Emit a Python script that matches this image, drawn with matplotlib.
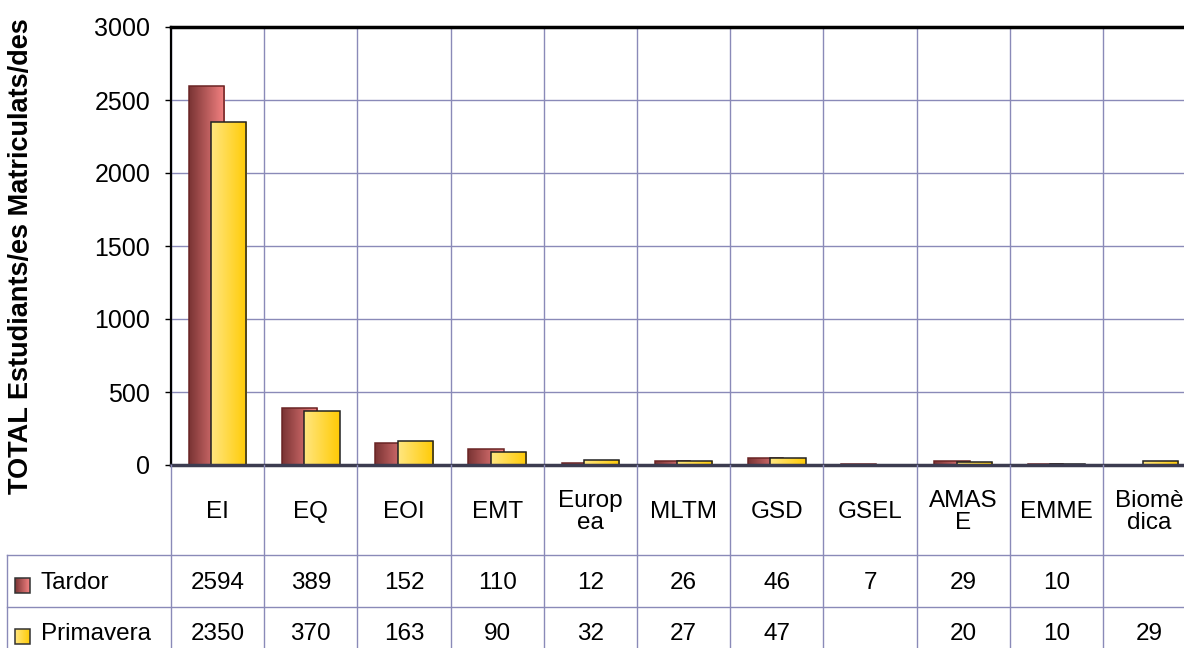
import numpy as np
import matplotlib.pyplot as plt
from matplotlib.patches import Rectangle
from matplotlib.colors import LinearSegmentedColormap

categories = ["EI", "EQ", "EOI", "EMT", "Europ\nea", "MLTM", "GSD", "GSEL", "AMAS\nE", "EMME", "Biomè\ndica"]
tardor = [2594, 389, 152, 110, 12, 26, 46, 7, 29, 10, None]
primavera = [2350, 370, 163, 90, 32, 27, 47, None, 20, 10, 29]
series_names = ["Tardor", "Primavera"]
yticks = [0, 500, 1000, 1500, 2000, 2500, 3000]

W, H = 1184, 648
grid_c = "#8a8ab8"
grad_t = ["#7a3434", "#f58282"]
grad_p = ["#ffe680", "#ffcb05"]

plt.rcParams["font.family"] = ["Liberation Sans", "DejaVu Sans"]
fig = plt.figure(figsize=(W / 100, H / 100), dpi=100)

x0, y_top, y_zero = 171, 27, 465
col_w = 93.2
n = len(categories)
ax = fig.add_axes([x0 / W, (H - y_zero) / H, n * col_w / W, (y_zero - y_top) / H])
ax.set_yticks(yticks)
ax.set_xticks([])
ax.tick_params(axis="y", direction="out", length=4.5, width=1, labelsize=18, pad=10.5)
fig.text(21 / W, (H - 256) / H, "TOTAL Estudiants/es Matriculats/des",
         rotation=90, ha="center", va="center", fontsize=19.5, fontweight="bold")
for k in np.arange(-0.5, n, 1.0):
    ax.axvline(k, color=grid_c, lw=1, zorder=0)
for v in yticks[1:]:
    ax.axhline(v, color=grid_c, lw=1, zorder=0)
ax.spines["right"].set_visible(False)
ax.spines["left"].set_linewidth(1.6)
ax.spines["top"].set_linewidth(2.5)
ax.spines["bottom"].set_linewidth(2.5)
ax.spines["bottom"].set_color("#3c3c50")

grad = np.linspace(0, 1, 64).reshape(1, -1)


def grad_bar(axx, x, y, w, h, cols, ec, z, clip=True):
    cmap = LinearSegmentedColormap.from_list("g", cols)
    r = Rectangle((x, y), w, h, facecolor="none", edgecolor=ec, lw=1.1, zorder=z + 0.05,
                  clip_on=clip)
    axx.add_patch(r)
    im = axx.imshow(grad, cmap=cmap, extent=(x, x + w, y, y + h), aspect="auto", zorder=z,
                    clip_on=clip)
    im.set_clip_path(r)


bw = 0.376
off = 0.12
for i in range(n):
    if tardor[i]:
        grad_bar(ax, i - off - bw / 2, 0, bw, tardor[i], grad_t, "#6a2424", 2)
    if primavera[i]:
        grad_bar(ax, i + off - bw / 2, 0, bw, primavera[i], grad_p, "#222222", 2.2)
ax.set_xlim(-0.5, n - 0.5)
ax.set_ylim(0, 3000)

# data table below the plot
tab = fig.add_axes([x0 / W, 0, n * col_w / W, (H - y_zero) / H])
tab.axis("off")
top = H - y_zero
left_edge = -0.5 - (x0 - 7) / col_w
r1 = H - 555
r2 = H - 607
for k in np.arange(-0.5, n, 1.0):
    tab.plot([k, k], [0, top], color=grid_c, lw=1, clip_on=False)
for yy in [r1, r2]:
    tab.plot([left_edge, n - 0.5], [yy, yy], color=grid_c, lw=1, clip_on=False)
tab.plot([left_edge, left_edge], [0, r1], color=grid_c, lw=1, clip_on=False)

for i, c in enumerate(categories):
    tab.text(i, (top + r1) / 2 - 2, c, ha="center", va="center", fontsize=17.5,
             linespacing=1.05)
rows = [tardor, primavera]
ycs = [H - 583, H - 634]
for vals, yc, nm, cols in zip(rows, ycs, series_names, [grad_t, grad_p]):
    for i, v in enumerate(vals):
        if v is not None:
            tab.text(i, yc, str(v), ha="center", va="center", fontsize=17.5)
    kx = left_edge + 8 / col_w
    ks = 15 / col_w
    grad_bar(tab, kx, yc - 10, ks, 15, cols, "#333333", 3, clip=False)
    tab.text(kx + ks + 11 / col_w, yc, nm, ha="left", va="center", fontsize=17.5)
tab.set_xlim(-0.5, n - 0.5)
tab.set_ylim(0, top)

fig.savefig("out.png", dpi=100)
